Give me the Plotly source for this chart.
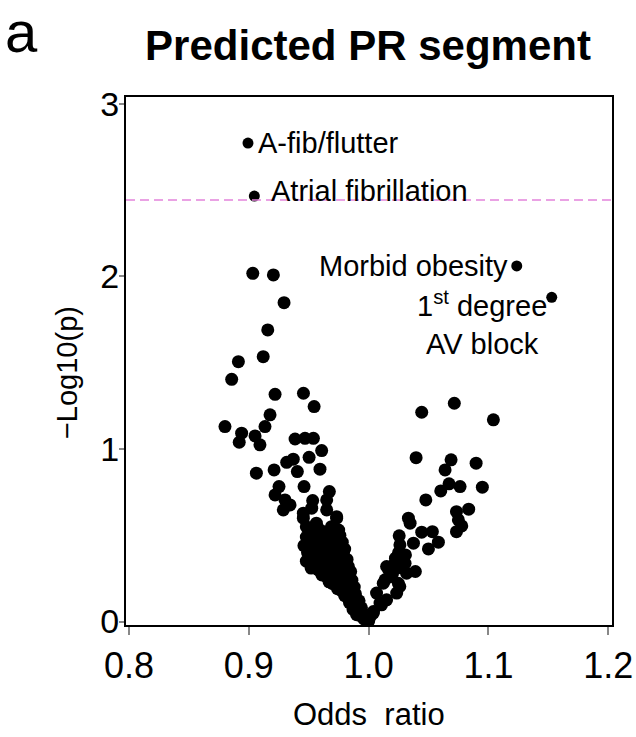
import plotly.graph_objects as go

# ---- data ----
odds_ratio = [
    # upper-left scatter
    0.9033, 0.9205, 0.9294, 0.9158, 0.9120, 0.8913, 0.8857, 0.9219, 0.9456, 0.9545,
    0.9177, 0.9135, 0.8801, 0.8940, 0.8920, 0.9052, 0.9093, 0.9386, 0.9469, 0.9539,
    0.9608, 0.9503, 0.9371, 0.9316, 0.9405, 0.9594, 0.9063, 0.9211, 0.9252, 0.9461,
    0.9219, 0.9302, 0.9344, 0.9288, 0.9672, 0.9650, 0.9533, 0.9455, 0.9525, 0.9733,
    0.9480, 0.9564, 0.9455, 0.9650, 0.9733,
    # left dense cluster
    0.952, 0.958, 0.963, 0.969, 0.975, 0.948, 0.955, 0.961, 0.967, 0.972,
    0.976, 0.946, 0.952, 0.958, 0.964, 0.970, 0.976, 0.978, 0.949, 0.951,
    0.957, 0.962, 0.968, 0.973, 0.979, 0.980, 0.948, 0.954, 0.960, 0.966,
    0.971, 0.977, 0.982, 0.952, 0.958, 0.963, 0.969, 0.974, 0.980, 0.983,
    0.961, 0.965, 0.968, 0.972, 0.978, 0.984, 0.985, 0.967, 0.970, 0.974,
    0.980, 0.986, 0.974, 0.977, 0.982, 0.988, 0.980, 0.984, 0.989, 0.984,
    0.988, 0.992, 0.987, 0.991, 0.994, 0.990, 0.994, 0.997, 0.996, 0.999,
    1.000,
    # right branch
    1.0443, 1.0715, 1.1041, 1.0396, 1.0688, 1.0638, 1.0897, 1.0949, 1.0671, 1.0763,
    1.0602, 1.0477, 1.0733, 1.0835, 1.0749, 1.0777, 1.0733, 1.0332, 1.0346, 1.0443,
    1.0532, 1.0582, 1.0499, 1.0374, 1.0255, 1.0261, 1.0224, 1.0307, 1.0167, 1.0390,
    1.0317, 1.0304, 1.0150, 1.0179, 1.0122, 1.0066, 1.0234, 1.0260, 1.0108, 1.0040,
    1.0013, 1.0137, 1.0248, 1.0095, 1.0150, 1.0039, 1.0200, 1.0280, 1.0220, 1.0250,
]
neg_log10_p = [
    2.018, 2.009, 1.848, 1.690, 1.535, 1.506, 1.404, 1.317, 1.323, 1.246,
    1.198, 1.130, 1.130, 1.092, 1.039, 1.076, 1.024, 1.058, 1.062, 1.062,
    0.991, 0.952, 0.941, 0.923, 0.869, 0.883, 0.860, 0.879, 0.782, 0.782,
    0.734, 0.705, 0.676, 0.647, 0.753, 0.705, 0.701, 0.628, 0.657, 0.599,
    0.550, 0.570, 0.599, 0.647, 0.608,
    0.52, 0.54, 0.52, 0.55, 0.53, 0.49, 0.48, 0.49, 0.50, 0.48,
    0.50, 0.44, 0.43, 0.45, 0.44, 0.45, 0.44, 0.46, 0.40, 0.38,
    0.40, 0.39, 0.41, 0.39, 0.40, 0.42, 0.35, 0.34, 0.35, 0.34,
    0.36, 0.35, 0.36, 0.31, 0.30, 0.31, 0.30, 0.32, 0.31, 0.32,
    0.27, 0.26, 0.27, 0.26, 0.27, 0.28, 0.29, 0.23, 0.22, 0.23,
    0.22, 0.24, 0.19, 0.18, 0.19, 0.20, 0.15, 0.14, 0.16, 0.11,
    0.10, 0.12, 0.07, 0.06, 0.08, 0.04, 0.03, 0.04, 0.015, 0.01,
    0.003,
    1.213, 1.265, 1.169, 0.950, 0.937, 0.879, 0.918, 0.779, 0.798, 0.782,
    0.757, 0.705, 0.637, 0.651, 0.589, 0.554, 0.521, 0.599, 0.570, 0.518,
    0.521, 0.460, 0.421, 0.454, 0.497, 0.444, 0.367, 0.386, 0.300, 0.290,
    0.280, 0.338, 0.319, 0.260, 0.222, 0.165, 0.165, 0.203, 0.097, 0.058,
    0.029, 0.242, 0.222, 0.107, 0.126, 0.049, 0.280, 0.310, 0.340, 0.400,
]

label_names = ["A-fib/flutter", "Atrial fibrillation", "Morbid obesity", "1<sup>st</sup> degree<br>AV block"]
label_or = [0.8993, 0.9046, 1.1236, 1.1528]
label_p = [2.773, 2.466, 2.061, 1.879]

threshold = 2.443
x_ticks = [0.8, 0.9, 1.0, 1.1, 1.2]
x_ticktext = ["0.8", "0.9", "1.0", "1.1", "1.2"]
y_ticks = [0, 1, 2, 3]

FONT = "Liberation Sans, Arial, Helvetica, sans-serif"

fig = go.Figure()
fig.add_trace(go.Scatter(
    x=odds_ratio, y=neg_log10_p, mode="markers",
    marker=dict(color="black", size=13, line=dict(width=0)),
    showlegend=False, hoverinfo="skip",
))
fig.add_trace(go.Scatter(
    x=label_or, y=label_p, mode="markers",
    marker=dict(color="black", size=11, line=dict(width=0)),
    showlegend=False, hoverinfo="skip",
))

fig.add_shape(type="line", xref="paper", yref="y", x0=0, x1=1, y0=threshold, y1=threshold,
              line=dict(color="#e384dc", width=1.6, dash="9px,5px"))

ann_font = dict(family=FONT, size=29, color="black")
fig.add_annotation(x=label_or[0], y=label_p[0], text=label_names[0], showarrow=False,
                   xanchor="left", yanchor="middle", xshift=8, font=ann_font)
fig.add_annotation(x=label_or[1], y=label_p[1], text=label_names[1], showarrow=False,
                   xanchor="left", yanchor="middle", xshift=15, yshift=5, font=ann_font)
fig.add_annotation(x=label_or[2], y=label_p[2], text=label_names[2], showarrow=False,
                   xanchor="right", yanchor="middle", xshift=-7, font=ann_font)
fig.add_annotation(x=label_or[3], y=label_p[3], text=label_names[3], showarrow=False,
                   xanchor="center", yanchor="top", xshift=-70, yshift=13, font=ann_font)

# panel letter and axis titles
fig.add_annotation(xref="paper", yref="paper", x=-0.214, y=1.125, text="a", showarrow=False,
                   xanchor="center", yanchor="middle", font=dict(family=FONT, size=58, color="black"))
fig.add_annotation(xref="paper", yref="paper", x=-0.1214, y=0.479, text="\u2212Log10(p)", showarrow=False,
                   textangle=-90, xanchor="center", yanchor="middle",
                   font=dict(family=FONT, size=29, color="black"))
fig.add_annotation(xref="paper", yref="paper", x=0.5, y=-0.170, text="Odds  ratio", showarrow=False,
                   xanchor="center", yanchor="middle", font=dict(family=FONT, size=31, color="black"))

fig.update_layout(
    width=636, height=737,
    margin=dict(l=126, r=24, t=97, b=112, autoexpand=False),
    paper_bgcolor="white", plot_bgcolor="white",
    title=dict(text="<b>Predicted PR segment</b>", x=368 / 636, xanchor="center",
               y=1 - 45 / 737, yanchor="middle", font=dict(family=FONT, size=42, color="black")),
    xaxis=dict(range=[0.7975, 1.2031], tickvals=x_ticks, ticktext=x_ticktext, automargin=False,
               ticks="outside", ticklen=8, tickwidth=1.5, tickcolor="#888",
               showline=True, linecolor="black", linewidth=2, mirror=True,
               showgrid=False, zeroline=False,
               tickfont=dict(family=FONT, size=36, color="black")),
    yaxis=dict(range=[-0.02, 3.04], tickvals=y_ticks, automargin=False,
               ticks="outside", ticklen=5, tickwidth=1.5, tickcolor="#888",
               ticklabelstandoff=-7,
               showline=True, linecolor="black", linewidth=2, mirror=True,
               showgrid=False, zeroline=False,
               tickfont=dict(family=FONT, size=34, color="black")),
)

fig.write_html("out.html", config={"displayModeBar": False},
               post_script="document.body.style.margin='0';document.body.style.overflow='hidden';")
